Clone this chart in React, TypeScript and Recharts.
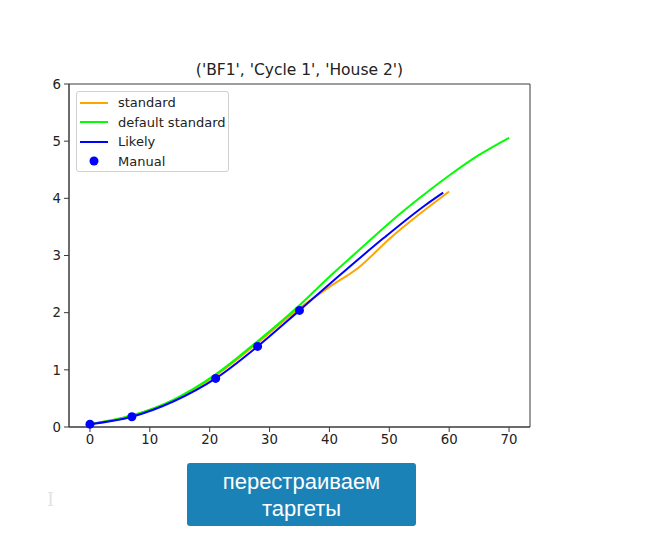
import React from 'react';
import {
  ComposedChart,
  Line,
  Scatter,
  XAxis,
  YAxis,
  Legend,
  ReferenceArea
} from 'recharts';

// days since start for each series, with the growth values
const standardDays = [0, 7, 14, 21, 28, 35, 40, 45, 50, 55, 60];
const standardValues = [0.05, 0.2, 0.47, 0.9, 1.47, 2.08, 2.45, 2.8, 3.29, 3.72, 4.12];

const defaultDays = [0, 7, 14, 21, 28, 35, 40, 45, 50, 55, 60, 65, 70];
const defaultValues = [0.05, 0.2, 0.48, 0.92, 1.5, 2.13, 2.63, 3.1, 3.57, 4.0, 4.4, 4.76, 5.06];

const likelyDays = [0, 7, 14, 21, 28, 35, 42, 49, 56, 59];
const likelyValues = [0.05, 0.18, 0.45, 0.85, 1.41, 2.04, 2.68, 3.3, 3.88, 4.1];

const manualDays = [0, 7, 21, 28, 35];
const manualValues = [0.05, 0.18, 0.85, 1.41, 2.04];

const xTicks = [0, 10, 20, 30, 40, 50, 60, 70];
const yTicks = [0, 1, 2, 3, 4, 5, 6];
const seriesOrder = ['standard', 'default standard', 'Likely', 'Manual'];

const title = "('BF1', 'Cycle 1', 'House 2')";
const buttonLines = ['перестраиваем', 'таргеты'];

const toPoints = (days: number[], values: number[]) =>
  days.map((t, i) => ({ t, v: values[i] }));

const FONT = '"DejaVu Sans", sans-serif';
const AXIS = '#3a3a3a';

const renderLegend = ({ payload }: any) => {
  const items = [...(payload || [])].sort(
    (a: any, b: any) => seriesOrder.indexOf(a.value) - seriesOrder.indexOf(b.value)
  );
  return (
    <div
      style={{
        background: 'rgba(255,255,255,0.85)',
        border: '1px solid #d0d0d0',
        borderRadius: 3,
        width: 153,
        height: 81,
        boxSizing: 'border-box',
        padding: '1px 0 0 3px',
        fontFamily: FONT,
        fontSize: 13,
        color: '#222'
      }}
    >
      {items.map((entry: any) => (
        <div key={entry.value} style={{ display: 'flex', alignItems: 'center', height: 19.5 }}>
          <svg width={38} height={12}>
            {entry.type === 'circle' ? (
              <circle cx={14} cy={6} r={4.5} fill={entry.color} />
            ) : (
              <line x1={0} y1={6} x2={28} y2={6} stroke={entry.color} strokeWidth={2} />
            )}
          </svg>
          <span>{entry.value}</span>
        </div>
      ))}
    </div>
  );
};

export default function App() {
  return (
    <div style={{ position: 'absolute', left: 0, top: 0, width: 650, height: 551, background: '#fff' }}>
      <div
        style={{
          position: 'absolute',
          left: 69,
          width: 461,
          top: 60,
          lineHeight: '20px',
          textAlign: 'center',
          fontFamily: FONT,
          fontSize: 15.5,
          color: '#222'
        }}
      >
        {title}
      </div>

      <ComposedChart
        width={650}
        height={460}
        margin={{ top: 84, right: 120, left: 29, bottom: 3 }}
        style={{ fontFamily: FONT }}
      >
        <XAxis
          dataKey="t"
          type="number"
          domain={[-3.5, 73.5]}
          ticks={xTicks}
          allowDataOverflow
          height={30}
          tickSize={5}
          tickMargin={3}
          stroke={AXIS}
          tick={{ fill: '#222', fontSize: 13.3 }}
        />
        <YAxis
          dataKey="v"
          type="number"
          domain={[0, 6]}
          ticks={yTicks}
          width={40}
          tickSize={5}
          tickMargin={3}
          stroke={AXIS}
          tick={{ fill: '#222', fontSize: 13.3 }}
        />
        <ReferenceArea
          x1={-3.5}
          x2={73.5}
          y1={0}
          y2={6}
          fill="none"
          stroke={AXIS}
          strokeWidth={1}
          ifOverflow="visible"
        />
        <Legend
          layout="vertical"
          align="center"
          verticalAlign="middle"
          content={renderLegend}
          wrapperStyle={{ position: 'absolute', left: 76, top: 91, width: 'auto' }}
        />
        <Line
          data={toPoints(standardDays, standardValues)}
          dataKey="v"
          name="standard"
          type="monotone"
          stroke="#ffa500"
          strokeWidth={2}
          dot={false}
          legendType="line"
          isAnimationActive={false}
        />
        <Line
          data={toPoints(defaultDays, defaultValues)}
          dataKey="v"
          name="default standard"
          type="monotone"
          stroke="#00ff00"
          strokeWidth={2}
          dot={false}
          legendType="line"
          isAnimationActive={false}
        />
        <Line
          data={toPoints(likelyDays, likelyValues)}
          dataKey="v"
          name="Likely"
          type="monotone"
          stroke="#0000ff"
          strokeWidth={2}
          dot={false}
          legendType="line"
          isAnimationActive={false}
        />
        <Scatter
          data={toPoints(manualDays, manualValues)}
          dataKey="v"
          name="Manual"
          fill="#0000ff"
          legendType="circle"
          shape={(p: any) => <circle cx={p.cx} cy={p.cy} r={4.5} fill="#0000ff" />}
          isAnimationActive={false}
        />
      </ComposedChart>

      <div
        style={{
          position: 'absolute',
          left: 187,
          top: 463,
          width: 229,
          height: 63,
          background: '#1b82b8',
          borderRadius: 3,
          color: '#fff',
          fontFamily: '"Liberation Sans", Arial, sans-serif',
          fontSize: 22,
          lineHeight: '27px',
          display: 'flex',
          flexDirection: 'column',
          alignItems: 'center',
          justifyContent: 'center'
        }}
      >
        {buttonLines.map((l) => (
          <div key={l}>{l}</div>
        ))}
      </div>

      <div
        style={{
          position: 'absolute',
          left: 47,
          top: 489,
          fontFamily: '"DejaVu Serif", serif',
          fontSize: 18,
          color: '#e4e4e4'
        }}
      >
        I
      </div>
    </div>
  );
}
